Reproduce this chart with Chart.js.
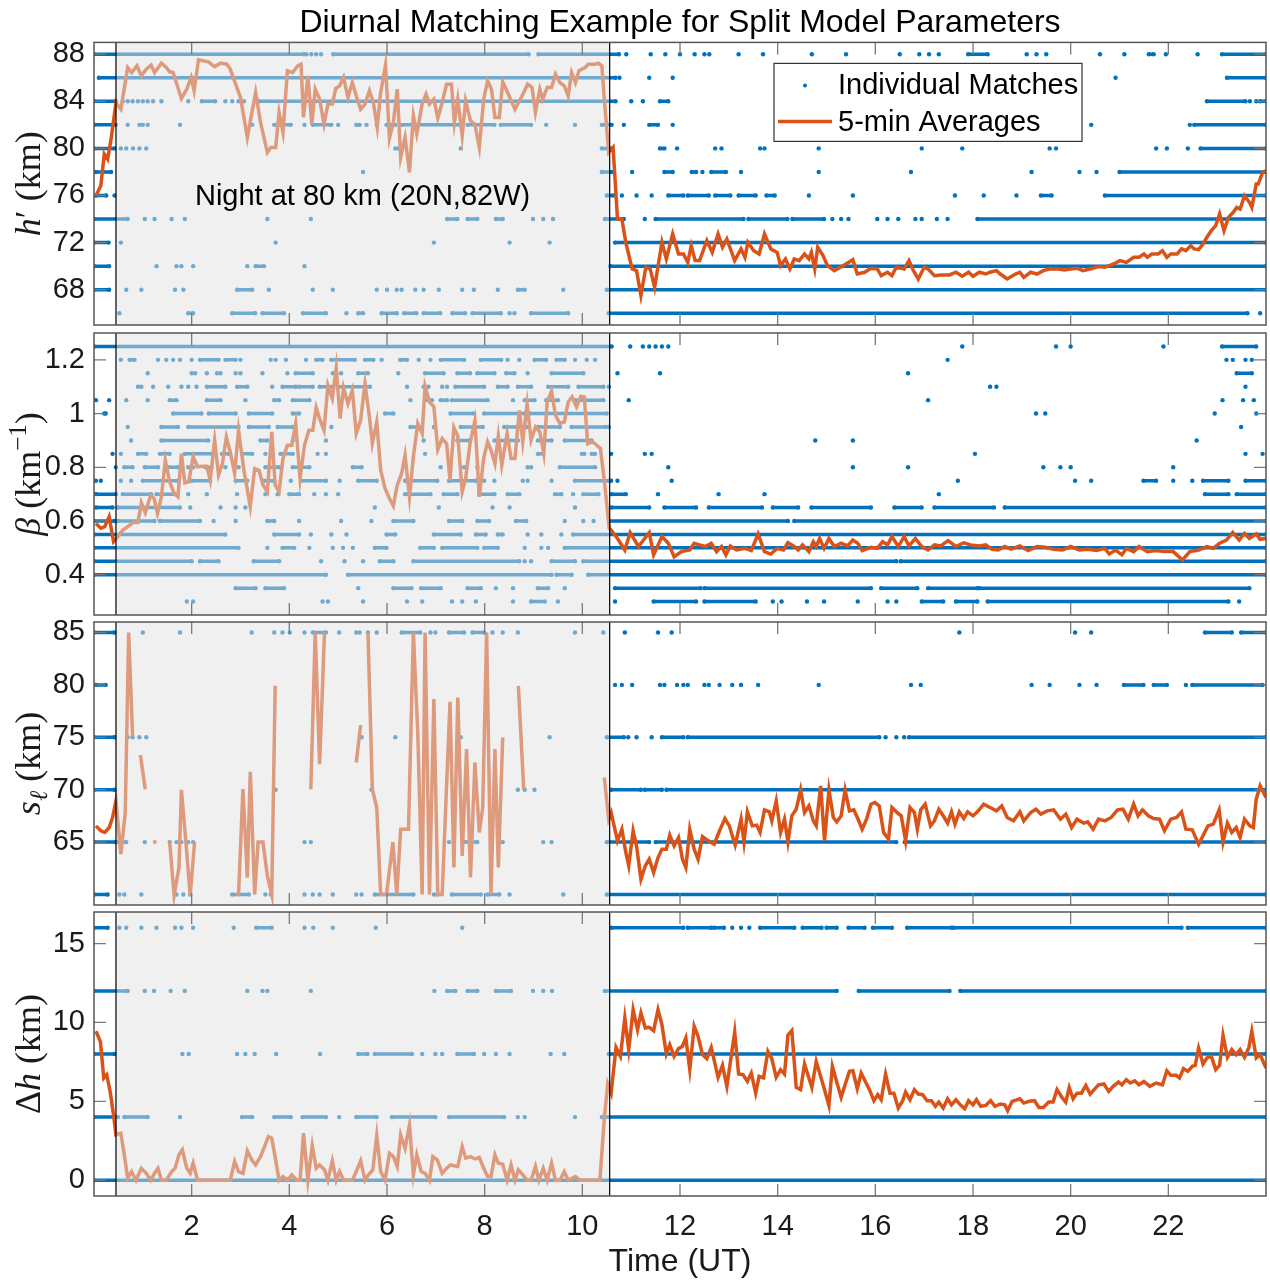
<!DOCTYPE html>
<html lang="en">
<head>
<meta charset="UTF-8">
<title>Diurnal Matching Example</title>
<script src="https://cdn.jsdelivr.net/npm/chart.js"></script>
<style>
  body { margin: 0; background: #fff; }
  #fig { position: relative; width: 1270px; height: 1281px; overflow: hidden; background: #fff; }
  #fig canvas { position: absolute; left: 0; }
</style>
</head>
<body>
<div id="fig">
  <canvas id="hChart" width="1270" height="355" style="top:0px"></canvas>
  <canvas id="betaChart" width="1270" height="342" style="top:303px"></canvas>
  <canvas id="sChart" width="1270" height="343" style="top:592px"></canvas>
  <canvas id="dhChart" width="1270" height="399" style="top:882px"></canvas>
</div>
<script>
// time axis (UT hours) and the night window at 80 km
const xTicks = [2, 4, 6, 8, 10, 12, 14, 16, 18, 20, 22];
const nightStart = 0.45;
const nightEnd = 10.56;

// tick values of each panel
const hTicks = [68, 72, 76, 80, 84, 88];
const betaTicks = [0.4, 0.6, 0.8, 1.0, 1.2];
const sTicks = [65, 70, 75, 80, 85];
const dhTicks = [0, 5, 10, 15];

// individual matches: [level, t] for one dot, [level, t0, t1] for a dense run of dots
const hMatches = [
  [88,0,4.3],[88,4.35],[88,4.45],[88,4.55],[88,4.65],[88,4.9,8.9],[88,9.1,10.75],[88,10.9],[88,11.4],[88,11.7],[88,12.0],[88,12.3],[88,12.5],[88,12.6],[88,13.2],[88,13.7],[88,14.7],[88,15.4],[88,16.5],[88,16.9],[88,17.1],[88,17.3],[88,17.9,18.3],[88,19.1],[88,19.3],[88,19.5],[88,20.6],[88,21.1],[88,21.6,21.7],[88,21.95],[88,22.6],[88,23.1,24],
  [86,0.1,10.68],[86,10.76],[86,11.37],[86,11.85],[86,20.92],[86,23.2,24],
  [84,0,0.45],[84,0.59],[84,0.69],[84,0.79],[84,0.9],[84,1.0],[84,1.1],[84,1.21],[84,1.38],[84,1.93],[84,2.21,2.48],[84,2.69],[84,2.83],[84,2.96],[84,3.07],[84,3.38,10.68],[84,11.0],[84,11.24],[84,11.59,11.76],[84,22.79,23.58],[84,23.67],[84,23.8],[84,23.88,24],
  [82,0,0.45],[82,0.69],[82,0.93],[82,1.0],[82,1.1],[82,1.76],[82,3.24],[82,3.69,4.03],[82,4.31],[82,4.48,4.86],[82,5.0],[82,5.37,5.44],[82,5.58],[82,5.79],[82,5.99,6.17],[82,6.3,7.5],[82,7.65,8.2],[82,8.33,8.95],[82,9.26],[82,9.85],[82,10.4,10.6],[82,10.85],[82,11.37,11.55],[82,11.85],[82,20.42],[82,22.44],[82,22.53,24],
  [80,0,0.42],[80,0.55],[80,0.66],[80,0.8],[80,0.93],[80,1.07],[80,6.17],[80,6.23],[80,7.51],[80,10.4,10.6],[80,11.59,11.68],[80,11.94],[80,12.72],[80,12.85],[80,13.64],[80,13.73],[80,14.84],[80,16.95],[80,17.78],[80,19.57],[80,19.7],[80,21.75],[80,21.97],[80,22.4],[80,22.66,24],
  [78,0.04,0.35],[78,5.51],[78,10.4,10.6],[78,11.02],[78,11.68,11.85],[78,12.24,12.33],[78,12.46],[78,12.64,12.94],[78,13.25],[78,14.84],[78,16.73],[78,19.2],[78,20.18],[78,20.53],[78,21.0,24],
  [76,0.04,0.25],[76,0.42],[76,10.5,10.63],[76,10.81],[76,11.11],[76,11.42],[76,11.76,12.07],[76,12.16,12.59],[76,12.72,13.03],[76,13.2,13.55],[76,13.77,13.94],[76,14.64],[76,15.54],[76,17.63],[76,18.22],[76,18.89],[76,19.39,19.61],[76,20.7,24],
  [74,0,0.69],[74,1.04],[74,1.24],[74,1.59],[74,1.86],[74,3.55],[74,4.44],[74,7.23,7.44],[74,7.65,7.85],[74,8.23,8.37],[74,8.99],[74,9.2],[74,9.4],[74,10.46,10.85],[74,11.28],[74,11.5,13.3],[74,13.4,14.2],[74,14.3,14.95],[74,15.12],[74,15.3],[74,15.45],[74,16.04],[74,16.25],[74,16.47],[74,16.82],[74,16.95],[74,17.26],[74,17.48],[74,18.09,24],
  [72,0,0.3],[72,0.55],[72,3.72],[72,6.96],[72,8.51],[72,9.33],[72,10.67,24],
  [70,0,0.31],[70,1.28],[70,1.69],[70,1.79],[70,2.03],[70,3.14],[70,3.31,3.48],[70,4.31],[70,10.57,24],
  [68,0,0.31],[68,0.66],[68,0.97],[68,1.66],[68,1.83],[68,2.93,3.24],[68,3.58],[68,4.48],[68,4.89],[68,5.79],[68,6.0],[68,6.2],[68,6.3],[68,6.58],[68,6.75],[68,7.06],[68,7.54],[68,7.78],[68,8.27],[68,8.68,8.82],[68,9.61],[68,10.5,24],
  [66,0.52],[66,1.93,2.03],[66,2.83,3.3],[66,3.45,3.89],[66,4.28,4.75],[66,5.17],[66,5.41,5.51],[66,5.89,6.2],[66,6.35,6.6],[66,6.75,7.09],[66,7.34,7.6],[66,7.75,8.33],[66,8.51],[66,8.61],[66,8.95,9.71],[66,10.54,23.62],[66,23.88]
];

const betaMatches = [
  [1.25,0,10.6],[1.25,10.98],[1.25,11.24],[1.25,11.37],[1.25,11.5],[1.25,11.63],[1.25,11.76],[1.25,17.78],[1.25,19.7],[1.25,20.0],[1.25,21.9],[1.25,23.1,23.8],
  [1.2,0.55],[1.2,0.73,0.83],[1.2,1.31],[1.2,1.48],[1.2,1.62],[1.2,1.76],[1.2,2.0],[1.2,2.17,2.55],[1.2,2.69,2.9],[1.2,3.0],[1.2,3.62],[1.2,3.72],[1.2,3.93],[1.2,4.34],[1.2,4.55,4.68],[1.2,4.86,5.34],[1.2,5.55,5.72],[1.2,5.89],[1.2,6.27,6.41],[1.2,6.65],[1.2,6.89],[1.2,7.1,7.58],[1.2,7.92,8.34],[1.2,8.47],[1.2,8.71],[1.2,9.02,9.26],[1.2,9.47,9.64],[1.2,9.85],[1.2,10.09],[1.2,10.26],[1.2,17.48],[1.2,23.19],[1.2,23.32],[1.2,23.58],[1.2,23.71],
  [1.15,1.1],[1.15,2.0],[1.15,2.07],[1.15,2.31],[1.15,2.52],[1.15,2.59],[1.15,2.9],[1.15,3.0],[1.15,3.45],[1.15,3.96],[1.15,4.13,4.48],[1.15,4.89],[1.15,5.06],[1.15,5.41,5.61],[1.15,6.23],[1.15,6.78,7.16],[1.15,7.44,7.7],[1.15,7.85,8.2],[1.15,8.44,8.61],[1.15,8.88],[1.15,9.37,10.02],[1.15,10.72],[1.15,11.59],[1.15,16.67],[1.15,23.4,23.71],
  [1.1,0.9],[1.1,0.97],[1.1,1.21],[1.1,1.52],[1.1,1.79],[1.1,1.93],[1.1,2.1],[1.1,2.31,2.69],[1.1,2.93,3.14],[1.1,3.65],[1.1,3.86,4.13],[1.1,4.2,4.48],[1.1,4.62,4.89],[1.1,4.99,5.65],[1.1,6.41],[1.1,6.75],[1.1,6.85],[1.1,7.13],[1.1,7.23],[1.1,7.4,7.99],[1.1,8.27,8.47],[1.1,8.68,8.95],[1.1,9.3,9.71],[1.1,9.92,10.43],[1.1,10.54],[1.1,18.35],[1.1,18.48],[1.1,23.58],
  [1.05,0.04],[1.05,0.31],[1.05,0.66],[1.05,1.1],[1.05,1.55,1.69],[1.05,2.31,2.59],[1.05,3.1],[1.05,3.69,3.79],[1.05,4.07,4.41],[1.05,6.48],[1.05,6.78,6.92],[1.05,7.1,7.23],[1.05,7.33,8.06],[1.05,8.58],[1.05,8.82,9.02],[1.05,9.26,9.5],[1.05,9.85,10.43],[1.05,10.95],[1.05,17.08],[1.05,23.11],[1.05,23.53],[1.05,23.75],
  [1.0,0.21],[1.0,0.24],[1.0,1.62,2.2],[1.0,2.35,2.9],[1.0,3.17,3.65],[1.0,4.07,4.2],[1.0,5.96,6.13],[1.0,7.3,7.78],[1.0,7.99,8.82],[1.0,8.92,10.5],[1.0,19.29],[1.0,19.48],[1.0,22.95],[1.0,23.8],
  [0.95,0.69],[0.95,1.38,1.72],[0.95,1.93,2.96],[0.95,3.17,3.58],[0.95,3.76,4.07],[0.95,4.86],[0.95,6.48,6.65],[0.95,6.96],[0.95,7.51,7.96],[0.95,8.4,8.88],[0.95,9.09,9.54],[0.95,9.78,10.47],[0.95,10.54],[0.95,23.49],
  [0.9,0.76],[0.9,1.38,2.34],[0.9,3.41,3.55],[0.9,4.07],[0.9,4.75],[0.9,6.75],[0.9,7.44,7.68],[0.9,8.2,8.68],[0.9,9.09,9.37],[0.9,9.64,10.19],[0.9,14.77],[0.9,15.54],[0.9,22.58],
  [0.85,0.38],[0.85,0.55],[0.85,0.9,1.07],[0.85,1.35,1.55],[0.85,1.86,2.41],[0.85,2.62,2.76],[0.85,3.03,3.24],[0.85,3.51],[0.85,3.82,4.07],[0.85,4.58],[0.85,4.75],[0.85,6.78],[0.85,9.09,9.2],[0.85,9.99],[0.85,10.04],[0.85,10.19,10.26],[0.85,10.59],[0.85,11.28],[0.85,11.42],[0.85,18.04],[0.85,23.58],[0.85,23.93],
  [0.8,0.45],[0.8,0.62,0.79],[0.8,1.04,1.31],[0.8,1.52,1.72],[0.8,1.93],[0.8,2.03],[0.8,2.28,2.41],[0.8,2.69],[0.8,2.96],[0.8,3.51,3.79],[0.8,4.07,4.41],[0.8,5.3,5.48],[0.8,7.1],[0.8,7.58],[0.8,7.85],[0.8,8.88],[0.8,8.95],[0.8,9.54,10.26],[0.8,11.76],[0.8,15.54],[0.8,16.67],[0.8,19.44],[0.8,19.79],[0.8,20.0],[0.8,22.1],
  [0.75,0.04],[0.75,0.14],[0.75,0.55],[0.75,0.76],[0.75,1.0,1.72],[0.75,2.0,2.38],[0.75,2.9,3.14],[0.75,3.48,3.69],[0.75,4.03],[0.75,4.24,4.75],[0.75,5.03],[0.75,5.41,5.79],[0.75,6.37,7.03],[0.75,7.27,7.82],[0.75,7.99],[0.75,8.2],[0.75,8.78],[0.75,8.88],[0.75,9.37],[0.75,9.85,10.54],[0.75,10.59],[0.75,10.72],[0.75,11.83],[0.75,17.69],[0.75,20.09],[0.75,20.42],[0.75,21.49,21.75],[0.75,22.1],[0.75,22.49],[0.75,22.71,23.23],[0.75,23.58,24],
  [0.7,0.04,0.45],[0.7,0.59,1.17],[0.7,1.28,1.66],[0.7,1.93],[0.7,2.31],[0.7,2.93],[0.7,3.51],[0.7,3.76],[0.7,4.0,4.2],[0.7,4.51],[0.7,4.75],[0.7,5.0],[0.7,6.37,6.89],[0.7,7.16,7.44],[0.7,7.89,8.2],[0.7,8.47,8.71],[0.7,9.44,9.57],[0.7,9.81],[0.7,10.02,10.33],[0.7,10.6,10.89],[0.7,11.55],[0.7,12.79],[0.7,13.73],[0.7,17.3],[0.7,22.75,23.23],[0.7,23.4,24],
  [0.65,0.04,0.38],[0.65,0.49,1.76],[0.65,1.97],[0.65,2.59],[0.65,2.9],[0.65,3.1],[0.65,5.75],[0.65,7.06],[0.65,8.16],[0.65,8.51],[0.65,9.85],[0.65,10.6,11.37],[0.65,11.68,12.33],[0.65,12.59,13.68],[0.65,13.9,14.42],[0.65,14.69,15.91],[0.65,16.39,16.95],[0.65,17.21,18.43],[0.65,18.65,24],
  [0.6,0,0.42],[0.6,0.49,1.24],[0.6,1.35,2.17],[0.6,2.45],[0.6,2.9],[0.6,3.55,3.69],[0.6,4.2],[0.6,5.06],[0.6,5.68],[0.6,6.13,6.54],[0.6,7.27,7.54],[0.6,7.85,8.09],[0.6,8.64,8.85],[0.6,9.64],[0.6,10.02],[0.6,10.23],[0.6,10.55,14.21],[0.6,14.34,24],
  [0.55,0,2.69],[0.55,3.69,4.2],[0.55,4.44],[0.55,4.86],[0.55,5.17],[0.55,5.99,6.17],[0.55,6.96,7.51],[0.55,7.82,8.02],[0.55,8.27,8.37],[0.55,8.88],[0.55,9.16],[0.55,9.57],[0.55,9.81,24],
  [0.5,0,2.96],[0.5,3.55],[0.5,3.86,4.1],[0.5,4.41],[0.5,4.89],[0.5,5.1],[0.5,5.3],[0.5,5.75,5.99],[0.5,6.68,6.96],[0.5,7.13,7.85],[0.5,7.99,8.27],[0.5,8.82],[0.5,9.16],[0.5,9.3],[0.5,9.64,24],
  [0.45,0,2.0],[0.45,2.17,2.55],[0.45,3.27,3.79],[0.45,4.65],[0.45,5.13],[0.45,5.51],[0.45,5.85,6.13],[0.45,6.54,8.71],[0.45,8.82],[0.45,8.95],[0.45,9.37,9.85],[0.45,10.02,16.43],[0.45,16.52,24],
  [0.4,0,4.75],[0.4,5.2,9.37],[0.4,9.47,9.78],[0.4,10.12,24],
  [0.35,2.9,3.31],[0.35,3.51,3.89],[0.35,5.41],[0.35,6.13,6.5],[0.35,6.7,7.1],[0.35,7.65,7.92],[0.35,8.23],[0.35,8.58],[0.35,9.09,9.3],[0.35,9.64],[0.35,10.67,12.42],[0.35,12.5,15.91],[0.35,16.12,16.86],[0.35,17.08,18.09],[0.35,18.13,23.66],
  [0.3,1.9],[0.3,2.03],[0.3,4.68],[0.3,4.79],[0.3,5.51],[0.3,6.41],[0.3,6.72],[0.3,7.33],[0.3,7.54],[0.3,7.82],[0.3,8.58],[0.3,8.95,9.23],[0.3,9.5],[0.3,10.67],[0.3,11.46,12.33],[0.3,12.5,13.55],[0.3,13.9],[0.3,14.08],[0.3,14.6],[0.3,14.95],[0.3,15.64],[0.3,16.25],[0.3,16.43],[0.3,16.95,17.39],[0.3,17.65,18.09],[0.3,18.3,23.23],[0.3,23.45]
];

const sMatches = [
  [85,0,0.42],[85,1.0],[85,1.76],[85,3.23],[85,3.69],[85,3.86],[85,4.01],[85,4.31],[85,4.48,4.75],[85,5.02],[85,5.37],[85,5.44],[85,5.61],[85,5.79],[85,6.3,6.68],[85,6.89],[85,6.99],[85,7.27,7.58],[85,7.75,7.99],[85,8.16],[85,8.37],[85,8.68],[85,9.85],[85,10.43],[85,10.87],[85,11.55],[85,11.83],[85,17.72],[85,20.09],[85,20.42],[85,22.75,23.3],[85,23.49,24],
  [80,0.04,0.24],[80,10.67],[80,10.81],[80,11.02],[80,11.59],[80,11.68],[80,11.94],[80,12.07],[80,12.16],[80,12.5],[80,12.59],[80,12.81],[80,13.07],[80,13.25],[80,13.6],[80,14.84],[80,16.73],[80,16.93],[80,19.2],[80,19.57],[80,20.18],[80,20.53],[80,21.09,21.49],[80,21.7,21.97],[80,22.36],[80,22.49,23.93],
  [75,0,0.42],[75,0.69],[75,0.79],[75,0.93],[75,1.07],[75,5.48],[75,6.17],[75,7.51],[75,9.33],[75,10.5,10.85],[75,10.94],[75,11.11],[75,11.42],[75,11.63,12.07],[75,12.16,16.08],[75,16.21],[75,16.43],[75,16.59],[75,16.69,24],
  [70,0,0.42],[70,3.72],[70,5.68],[70,8.68],[70,8.82],[70,9.02],[70,10.59,11.2],[70,11.28,11.63],[70,11.72,24],
  [65,0,0.45],[65,0.49,0.66],[65,1.04],[65,1.55],[65,1.69],[65,1.79],[65,1.93],[65,2.03],[65,4.31],[65,4.44],[65,7.27],[65,7.37],[65,7.58,7.85],[65,8.3],[65,8.37],[65,9.2],[65,9.37],[65,10.5,11.37],[65,11.5,16.43],[65,16.6,24],
  [60,0,0.28],[60,0.52],[60,0.62],[60,0.97],[60,1.69],[60,1.83],[60,1.97],[60,2.83,3.17],[60,3.51],[60,3.62],[60,4.31],[60,4.48],[60,4.62],[60,4.89],[60,5.37],[60,5.48],[60,5.75,6.54],[60,6.96],[60,7.03],[60,7.33,7.92],[60,8.06,8.3],[60,8.51],[60,9.61],[60,10.5,24]
];

const dhMatches = [
  [16,0,0.28],[16,0.52],[16,0.66],[16,0.97],[16,1.28],[16,1.66],[16,1.79],[16,2.03],[16,2.86],[16,3.32,3.64],[16,4.31],[16,4.49],[16,4.89],[16,5.77],[16,7.54],[16,10.6,12.07],[16,12.16,12.64],[16,12.7,12.9],[16,13.07],[16,13.25],[16,13.42],[16,13.64,14.34],[16,14.51,14.9],[16,15.0,15.21],[16,15.45,15.78],[16,15.95,16.34],[16,16.65,17.56],[16,17.6,22.27],[16,22.4,24],
  [12,0,0.69],[12,1.04],[12,1.23],[12,1.57],[12,1.86],[12,3.14],[12,3.45],[12,3.55],[12,4.44],[12,6.97],[12,7.23,7.4],[12,7.65,7.85],[12,8.23,8.54],[12,8.99],[12,9.2],[12,9.38],[12,10.46,15.21],[12,15.66,17.52],[12,17.74,24],
  [8,0,0.42],[8,1.81],[8,1.94],[8,2.93],[8,3.1],[8,3.29],[8,3.73],[8,4.63],[8,5.41,5.6],[8,5.75,6.51],[8,6.72],[8,6.99],[8,7.13],[8,7.44,7.78],[8,7.99],[8,8.23],[8,8.51],[8,9.35],[8,9.63],[8,10.54,24],
  [4,0,0.49],[4,0.62,1.1],[4,1.76],[4,3.03,3.24],[4,3.69,4.03],[4,4.27,4.75],[4,5.02],[4,5.37,5.79],[4,6.1,6.99],[4,7.27,8.4],[4,8.68],[4,8.82],[4,9.85],[4,10.4,24],
  [0,0,24]
];

// 5-min averages: [t, value], null = no average in that interval
const hAvg = [
  [0.04,75.98],[0.14,76.83],[0.21,79.52],[0.28,79.09],[0.35,80.79],[0.45,83.9],[0.55,83.33],[0.69,86.87],[0.77,86.44],[0.88,87.01],[0.97,86.16],[1.07,86.73],[1.17,87.07],[1.24,86.44],[1.38,87.24],[1.48,86.87],[1.55,86.5],[1.62,86.44],[1.79,84.24],[1.90,85.03],[1.99,86.02],[2.05,84.89],[2.14,87.52],[2.34,87.35],[2.47,86.95],[2.59,87.24],[2.72,87.15],[2.79,86.73],[2.90,85.45],[3.00,84.32],[3.14,80.93],[3.31,84.75],[3.41,82.2],[3.55,79.66],[3.62,80.08],[3.72,80.08],[3.79,83.05],[3.87,81.35],[3.96,86.59],[4.07,86.44],[4.17,87.01],[4.24,87.15],[4.29,82.63],[4.38,86.16],[4.46,82.06],[4.53,85.03],[4.62,84.18],[4.71,82.06],[4.79,83.76],[4.88,83.76],[4.95,85.09],[5.03,85.31],[5.11,86.02],[5.20,84.32],[5.29,85.6],[5.37,84.46],[5.46,83.33],[5.55,83.76],[5.64,84.89],[5.72,83.9],[5.80,81.78],[5.87,84.75],[5.97,87.07],[6.05,80.85],[6.13,82.2],[6.21,85.03],[6.28,79.23],[6.37,80.93],[6.46,77.96],[6.54,82.77],[6.61,81.21],[6.72,83.76],[6.80,84.61],[6.87,83.76],[6.96,84.18],[7.04,82.57],[7.13,83.9],[7.22,85.45],[7.32,85.45],[7.38,82.2],[7.45,84.18],[7.54,81.07],[7.61,84.04],[7.71,82.34],[7.80,82.06],[7.89,80.08],[7.98,84.18],[8.06,85.74],[8.14,85.03],[8.21,82.63],[8.30,82.63],[8.37,85.65],[8.47,84.75],[8.62,83.33],[8.75,84.32],[8.88,85.45],[8.97,85.17],[9.04,83.05],[9.13,85.03],[9.19,84.18],[9.28,85.17],[9.37,85.17],[9.45,86.3],[9.54,85.59],[9.63,85.31],[9.71,84.46],[9.78,86.44],[9.86,85.59],[9.93,86.59],[10.06,86.87],[10.12,87.15],[10.26,87.15],[10.33,87.24],[10.40,87.01],[10.45,84.18],[10.54,79.66],[10.63,80.08],[10.72,74.0],[10.81,74.0],[10.89,72.02],[11.02,69.76],[11.11,69.62],[11.20,67.5],[11.30,69.9],[11.39,69.76],[11.48,68.2],[11.63,72.02],[11.72,70.61],[11.85,72.73],[11.97,71.03],[12.07,71.03],[12.16,70.32],[12.23,71.74],[12.31,70.47],[12.40,70.47],[12.55,72.16],[12.66,71.17],[12.78,72.73],[12.87,71.6],[12.96,72.3],[13.12,70.47],[13.25,71.46],[13.33,70.75],[13.39,72.02],[13.51,71.31],[13.62,71.03],[13.73,72.73],[13.86,71.46],[13.99,71.17],[14.06,70.04],[14.16,70.61],[14.25,69.76],[14.34,70.61],[14.44,70.47],[14.55,71.03],[14.64,70.61],[14.69,71.17],[14.76,69.76],[14.82,71.6],[14.93,70.89],[15.02,70.04],[15.16,69.62],[15.34,70.04],[15.54,70.55],[15.63,69.33],[15.78,69.48],[15.91,69.82],[16.04,69.76],[16.12,69.19],[16.25,69.48],[16.34,69.19],[16.43,69.9],[16.59,69.76],[16.69,70.47],[16.78,69.62],[16.88,68.91],[17.00,69.9],[17.08,69.76],[17.21,69.19],[17.34,69.25],[17.52,69.25],[17.65,69.48],[17.78,69.14],[17.91,69.48],[18.00,69.14],[18.13,69.48],[18.26,69.33],[18.35,69.48],[18.48,69.62],[18.56,69.33],[18.70,68.91],[18.87,69.33],[18.96,69.48],[19.04,69.05],[19.18,69.48],[19.31,69.33],[19.44,69.62],[19.57,69.76],[19.74,69.76],[19.87,69.68],[20.00,69.76],[20.13,69.82],[20.25,69.62],[20.40,69.76],[20.57,69.96],[20.70,69.9],[20.88,70.18],[21.01,70.47],[21.14,70.32],[21.29,70.75],[21.40,70.75],[21.50,71.03],[21.57,70.75],[21.66,71.03],[21.79,71.03],[21.88,71.31],[21.97,70.75],[22.05,71.03],[22.18,71.03],[22.27,71.46],[22.36,71.31],[22.46,71.74],[22.53,71.46],[22.62,71.4],[22.71,71.88],[22.79,72.45],[22.88,73.01],[22.97,73.44],[23.05,74.43],[23.14,73.01],[23.23,74.14],[23.33,74.57],[23.40,74.99],[23.47,74.85],[23.56,75.98],[23.66,75.42],[23.71,74.99],[23.80,76.97],[23.84,76.97],[23.93,77.96],[23.99,78.1]
];

const betaAvg = [
  [0.04,0.591],[0.14,0.573],[0.22,0.579],[0.31,0.616],[0.40,0.523],[0.49,0.542],[0.59,0.566],[0.69,0.579],[0.80,0.594],[0.90,0.594],[0.97,0.668],[1.05,0.631],[1.16,0.696],[1.23,0.684],[1.30,0.628],[1.38,0.69],[1.46,0.826],[1.55,0.746],[1.64,0.703],[1.72,0.69],[1.79,0.851],[1.86,0.742],[1.94,0.746],[2.03,0.839],[2.12,0.802],[2.22,0.804],[2.31,0.804],[2.38,0.752],[2.47,0.901],[2.55,0.771],[2.63,0.814],[2.71,0.913],[2.79,0.857],[2.88,0.777],[2.96,0.938],[3.07,0.789],[3.20,0.653],[3.29,0.795],[3.38,0.789],[3.46,0.734],[3.55,0.709],[3.64,0.932],[3.71,0.734],[3.79,0.709],[3.87,0.833],[3.96,0.882],[4.05,0.882],[4.13,0.963],[4.22,0.758],[4.31,0.882],[4.40,0.938],[4.48,0.938],[4.55,1.022],[4.62,0.981],[4.71,0.938],[4.79,1.105],[4.88,1.056],[4.96,1.171],[5.04,0.981],[5.11,1.096],[5.20,1.037],[5.29,1.087],[5.37,0.926],[5.46,0.975],[5.55,1.111],[5.64,0.987],[5.70,0.888],[5.79,0.969],[5.87,0.789],[5.96,0.721],[6.05,0.684],[6.13,0.656],[6.21,0.734],[6.30,0.777],[6.37,0.845],[6.46,0.69],[6.54,0.839],[6.63,0.963],[6.72,0.926],[6.78,1.101],[6.87,1.043],[6.96,1.025],[7.04,0.866],[7.13,0.907],[7.22,0.888],[7.29,0.752],[7.37,0.948],[7.45,0.916],[7.54,0.709],[7.61,0.758],[7.70,0.888],[7.80,0.973],[7.89,0.69],[7.98,0.833],[8.06,0.895],[8.13,0.864],[8.21,0.814],[8.28,0.916],[8.35,0.808],[8.46,0.926],[8.54,0.833],[8.62,0.833],[8.71,1.012],[8.78,0.895],[8.87,1.035],[8.95,0.901],[9.04,0.95],[9.13,0.932],[9.21,0.851],[9.28,1.043],[9.37,1.084],[9.45,0.994],[9.54,0.963],[9.63,0.969],[9.71,1.043],[9.79,1.062],[9.88,1.025],[9.97,1.064],[10.04,1.062],[10.11,0.888],[10.21,0.895],[10.37,0.87],[10.45,0.752],[10.55,0.573],
  [10.59,0.566],[10.72,0.535],[10.87,0.492],[10.98,0.557],[11.15,0.505],[11.37,0.557],[11.46,0.474],[11.63,0.542],[11.76,0.517],[11.88,0.467],[12.03,0.486],[12.2,0.492],[12.29,0.517],[12.4,0.511],[12.52,0.505],[12.64,0.517],[12.75,0.486],[12.85,0.505],[12.94,0.474],[13.03,0.507],[13.16,0.492],[13.33,0.498],[13.46,0.49],[13.6,0.552],[13.73,0.486],[13.86,0.477],[13.99,0.498],[14.12,0.492],[14.21,0.519],[14.34,0.505],[14.42,0.492],[14.51,0.511],[14.64,0.486],[14.73,0.523],[14.79,0.505],[14.86,0.535],[14.95,0.498],[15.05,0.535],[15.16,0.505],[15.3,0.517],[15.43,0.507],[15.54,0.529],[15.64,0.517],[15.73,0.49],[15.91,0.502],[16.04,0.498],[16.15,0.523],[16.25,0.511],[16.34,0.542],[16.47,0.505],[16.59,0.542],[16.69,0.507],[16.82,0.535],[16.95,0.505],[17.08,0.492],[17.21,0.511],[17.34,0.507],[17.49,0.527],[17.65,0.505],[17.81,0.519],[17.95,0.511],[18.13,0.507],[18.26,0.511],[18.39,0.495],[18.52,0.492],[18.65,0.505],[18.78,0.495],[18.96,0.507],[19.13,0.49],[19.31,0.505],[19.48,0.502],[19.65,0.495],[19.83,0.492],[20.0,0.505],[20.18,0.492],[20.35,0.495],[20.53,0.49],[20.7,0.498],[20.79,0.477],[20.92,0.492],[21.05,0.474],[21.14,0.498],[21.29,0.486],[21.4,0.505],[21.57,0.486],[21.75,0.49],[21.92,0.486],[22.1,0.486],[22.29,0.455],[22.44,0.486],[22.62,0.492],[22.79,0.505],[22.92,0.498],[23.05,0.517],[23.19,0.529],[23.32,0.557],[23.45,0.529],[23.56,0.554],[23.66,0.535],[23.8,0.552],[23.88,0.532],[24.0,0.535]
];

const sAvg = [
  [0.04,66.55],[0.14,66.08],[0.22,65.92],[0.31,66.39],[0.38,67.35],[0.45,68.94],[0.55,63.85],[0.64,67.82],[0.71,85],[0.79,75.14],[0.84,null],
  [0.95,73.3],[1.05,70.05],[1.1,null],
  [1.21,65],[1.28,65],[1.4,null],
  [1.55,65],[1.64,59.94],[1.74,62.58],[1.79,69.99],[1.88,65.12],[1.97,59.94],[2.06,65],[2.3,null],
  [2.9,60],[2.96,60],[3.05,70.05],[3.14,61.62],[3.2,71.7],[3.29,60],[3.36,65],[3.46,65],[3.55,61.78],[3.64,60],[3.71,79.91],[4.0,null],
  [4.44,70.05],[4.53,85],[4.62,72.44],[4.72,85],[5.0,null],
  [5.37,72.6],[5.46,76.16],[5.5,null],
  [5.61,85],[5.7,70.05],[5.79,68.3],[5.87,60],[5.99,60],[6.12,65],[6.2,60],[6.28,66.23],[6.44,66.23],[6.54,85],[6.63,75.46],[6.72,60],[6.78,85],[6.87,60],[6.96,78.64],[7.04,60],[7.13,60],[7.29,78.38],[7.37,62.58],[7.45,78.8],[7.54,63.69],[7.63,73.87],[7.71,61.62],[7.8,72.6],[7.89,65.92],[7.96,68.3],[8.04,85],[8.13,60],[8.21,73.87],[8.28,62.58],[8.37,74.98],[8.5,null],
  [8.69,79.91],[8.8,70.05],[9.0,null],
  [10.45,71.16],[10.54,67.19],[10.59,67.82],[10.72,65.12],[10.81,66.23],[10.89,64.01],[10.95,62.74],[11.04,66.08],[11.11,64.64],[11.2,61.46],[11.29,62.74],[11.37,63.37],[11.46,62.1],[11.55,63.53],[11.63,64.33],[11.72,64.33],[11.79,65.66],[11.88,64.64],[11.97,65.44],[12.05,63.37],[12.12,62.58],[12.2,66.23],[12.29,64.33],[12.37,63.37],[12.46,65.53],[12.58,65.12],[12.7,64.8],[12.81,66.08],[12.92,67.25],[13.01,66.55],[13.13,64.71],[13.25,67.19],[13.31,65.0],[13.38,67.89],[13.48,66.55],[13.57,66.62],[13.64,65.92],[13.73,68.08],[13.83,67.89],[13.88,67.03],[13.97,68.94],[14.06,65.92],[14.14,67.19],[14.21,65.0],[14.29,67.51],[14.38,68.14],[14.47,69.99],[14.55,67.82],[14.64,68.46],[14.73,67.03],[14.79,66.55],[14.88,70.37],[14.96,65.12],[15.05,69.99],[15.14,67.35],[15.21,66.93],[15.3,67.51],[15.38,69.99],[15.47,67.98],[15.56,68.08],[15.64,67.25],[15.73,66.23],[15.82,67.19],[15.91,68.62],[15.99,68.78],[16.08,68.46],[16.17,65.92],[16.27,65.28],[16.34,68.3],[16.43,67.89],[16.53,67.51],[16.62,65.12],[16.71,68.3],[16.8,67.82],[16.86,66.23],[16.93,68.08],[17.02,68.62],[17.13,66.55],[17.21,67.03],[17.3,68.14],[17.39,67.51],[17.48,66.81],[17.56,67.89],[17.63,66.71],[17.72,67.89],[17.81,67.25],[17.89,67.89],[18.0,67.51],[18.09,67.89],[18.22,68.62],[18.35,68.3],[18.48,67.98],[18.59,68.46],[18.7,67.35],[18.83,67.03],[18.96,67.89],[19.04,67.03],[19.18,67.82],[19.29,68.14],[19.39,67.67],[19.52,67.98],[19.65,68.08],[19.79,67.19],[19.9,67.67],[20.02,66.39],[20.13,67.19],[20.27,66.81],[20.35,66.93],[20.46,66.23],[20.57,67.19],[20.7,67.03],[20.83,67.35],[20.96,68.08],[21.07,68.14],[21.18,67.19],[21.29,68.62],[21.38,67.51],[21.47,68.08],[21.59,67.51],[21.7,67.25],[21.82,67.19],[21.92,66.08],[22.05,67.19],[22.17,67.35],[22.27,67.89],[22.36,66.23],[22.49,66.17],[22.62,64.8],[22.71,65.6],[22.81,66.55],[22.92,66.71],[23.04,68.08],[23.12,65.0],[23.21,66.81],[23.3,65.92],[23.39,66.39],[23.47,65.44],[23.56,67.19],[23.67,66.55],[23.74,66.39],[23.8,69.1],[23.88,70.37],[24.0,69.26]
];

const dhAvg = [
  [0.04,9.44],[0.13,8.8],[0.2,6.48],[0.26,6.69],[0.33,5.63],[0.4,4.15],[0.45,2.88],[0.55,2.98],[0.62,1.61],[0.69,0.13],[0.77,0.55],[0.86,0],[0.97,0.76],[1.07,0.44],[1.16,0],[1.24,0.44],[1.31,0.76],[1.38,0],[1.48,0],[1.59,0.55],[1.66,0.76],[1.74,1.61],[1.81,1.93],[1.9,0.76],[1.97,0.44],[2.03,1.08],[2.12,0],[2.79,0],[2.88,1.19],[2.96,0.55],[3.05,0.44],[3.14,1.86],[3.23,1.29],[3.31,0.97],[3.41,1.5],[3.48,2.03],[3.57,2.77],[3.64,2.67],[3.72,1.29],[3.79,0],[3.87,0.23],[3.96,0],[4.05,0.34],[4.15,0],[4.22,0],[4.29,2.98],[4.38,0],[4.47,2.2],[4.55,0.76],[4.62,0.97],[4.72,0.66],[4.79,0],[4.88,1.23],[4.96,0],[5.03,0.55],[5.11,0],[5.29,0],[5.37,0.55],[5.46,1.23],[5.55,0],[5.62,0.34],[5.71,0.66],[5.79,2.83],[5.87,0.55],[5.96,0],[6.05,1.71],[6.13,1.5],[6.21,0.87],[6.28,2.88],[6.37,2.03],[6.46,3.51],[6.54,0.34],[6.61,1.61],[6.7,0.55],[6.78,0.44],[6.87,0],[6.94,1.5],[7.03,1.29],[7.13,0.44],[7.22,0.76],[7.3,0.97],[7.45,0.87],[7.54,2.14],[7.61,1.4],[7.71,1.5],[7.8,1.35],[7.89,1.44],[7.98,0.76],[8.06,0.23],[8.13,0.23],[8.21,1.61],[8.28,1.08],[8.37,1.02],[8.46,0],[8.54,0.97],[8.62,0],[8.69,0.66],[8.78,0.34],[8.87,0],[8.95,0],[9.04,0.87],[9.11,0],[9.2,0.76],[9.28,0],[9.37,1.08],[9.45,0],[9.54,0],[9.63,0.55],[9.71,0],[9.86,0.23],[9.95,0],[10.36,0],[10.45,3.94],[10.52,6.1],
  [10.59,5.52],[10.69,8.42],[10.78,7.85],[10.87,10.29],[10.95,8.28],[11.04,10.81],[11.13,9.54],[11.2,10.6],[11.29,9.65],[11.37,9.69],[11.46,9.48],[11.55,10.81],[11.63,9.86],[11.72,8.0],[11.79,8.59],[11.88,7.85],[11.97,8.34],[12.05,8.49],[12.12,9.02],[12.2,7.01],[12.29,9.76],[12.37,9.12],[12.46,7.96],[12.55,7.7],[12.64,8.42],[12.78,6.52],[12.87,7.28],[12.96,5.95],[13.12,9.4],[13.2,6.73],[13.29,6.69],[13.38,6.26],[13.46,6.79],[13.55,5.52],[13.62,6.58],[13.71,6.48],[13.8,8.17],[13.88,7.7],[13.97,6.52],[14.06,7.01],[14.14,6.73],[14.21,9.19],[14.29,9.48],[14.38,5.88],[14.47,5.74],[14.55,7.37],[14.64,6.48],[14.7,5.88],[14.79,7.53],[14.88,6.58],[14.96,5.74],[15.05,4.74],[15.12,7.22],[15.21,6.22],[15.3,5.25],[15.38,6.05],[15.47,6.9],[15.54,6.94],[15.63,5.8],[15.71,6.79],[15.8,6.22],[15.88,5.74],[15.97,5.04],[16.05,5.42],[16.12,5.1],[16.21,6.73],[16.3,5.52],[16.38,5.52],[16.47,4.57],[16.56,5.04],[16.62,5.59],[16.71,5.1],[16.8,5.74],[16.88,5.46],[16.97,5.42],[17.06,5.04],[17.15,5.04],[17.23,4.68],[17.3,4.95],[17.39,4.57],[17.48,5.16],[17.56,4.78],[17.65,5.1],[17.74,4.78],[17.83,4.53],[17.91,5.04],[18.0,4.78],[18.07,5.1],[18.16,4.68],[18.26,4.74],[18.36,5.04],[18.45,4.68],[18.56,4.83],[18.65,4.78],[18.71,4.4],[18.8,5.0],[18.96,5.16],[19.04,4.89],[19.15,5.0],[19.26,5.04],[19.35,4.61],[19.44,4.61],[19.55,4.95],[19.64,4.95],[19.72,5.74],[19.83,5.21],[19.9,4.95],[19.97,5.88],[20.05,5.16],[20.13,5.52],[20.22,5.52],[20.31,6.01],[20.4,5.46],[20.48,5.74],[20.57,6.05],[20.68,6.1],[20.78,5.63],[20.87,5.95],[20.98,6.22],[21.05,6.05],[21.14,6.37],[21.22,6.16],[21.31,6.3],[21.4,6.05],[21.5,6.26],[21.62,5.95],[21.75,6.16],[21.88,6.05],[21.97,6.94],[22.05,6.65],[22.16,6.65],[22.23,6.48],[22.31,7.07],[22.4,6.9],[22.49,7.22],[22.55,7.28],[22.62,8.38],[22.71,7.37],[22.79,7.75],[22.88,7.85],[22.97,7.01],[23.05,7.28],[23.12,9.19],[23.21,7.79],[23.3,8.28],[23.39,7.96],[23.47,8.28],[23.56,7.79],[23.65,8.42],[23.71,9.44],[23.8,7.75],[23.88,7.96],[24.0,7.11]
];

const blue = '#0072BD';
const orange = '#D95319';
const sansFont = '"Liberation Sans", Arial, Helvetica, sans-serif';
const serifFont = '"Liberation Serif", "DejaVu Serif", "Times New Roman", serif';

Chart.defaults.font.family = sansFont;
Chart.defaults.font.size = 29;
Chart.defaults.color = '#1a1a1a';

// turn match runs into points, a null point ends each run
function matchPoints(runs) {
  const pts = [];
  runs.forEach(r => {
    const t0 = r[1];
    const t1 = r.length > 2 ? r[2] : r[1];
    pts.push({ x: t0, y: r[0] });
    if (t1 !== t0) pts.push({ x: t1, y: r[0] });
    pts.push({ x: t1, y: null });
  });
  return pts;
}

function avgPoints(pairs) {
  return pairs.map(p => ({ x: p[0], y: p[1] }));
}

// night shading, box, inside ticks, y label, note and legend
const decor = {
  id: 'decor',
  afterDatasetsDraw(chart, args, o) {
    const ctx = chart.ctx;
    const a = chart.chartArea;
    const xs = chart.scales.x;
    const ys = chart.scales.y;
    const n0 = xs.getPixelForValue(nightStart);
    const n1 = xs.getPixelForValue(nightEnd);

    ctx.save();
    ctx.fillStyle = 'rgba(225,225,225,0.5)';
    ctx.fillRect(n0, a.top, n1 - n0, a.bottom - a.top);

    ctx.strokeStyle = '#000';
    ctx.lineWidth = 1.2;
    ctx.beginPath();
    [n0, n1].forEach(px => {
      ctx.moveTo(px, a.top);
      ctx.lineTo(px, a.bottom);
    });
    ctx.stroke();

    // ticks point inward on all four sides
    ctx.strokeStyle = '#7a7a7a';
    ctx.lineWidth = 1.3;
    ctx.beginPath();
    xTicks.forEach(v => {
      const px = xs.getPixelForValue(v);
      ctx.moveTo(px, a.bottom); ctx.lineTo(px, a.bottom - 12);
      ctx.moveTo(px, a.top); ctx.lineTo(px, a.top + 12);
    });
    o.yTicks.forEach(v => {
      const py = ys.getPixelForValue(v);
      ctx.moveTo(a.left, py); ctx.lineTo(a.left + 12, py);
      ctx.moveTo(a.right, py); ctx.lineTo(a.right - 12, py);
    });
    ctx.stroke();

    ctx.strokeStyle = '#555';
    ctx.lineWidth = 1.5;
    ctx.strokeRect(a.left, a.top, a.right - a.left, a.bottom - a.top);

    if (o.note) {
      ctx.fillStyle = '#000';
      ctx.font = '29px ' + sansFont;
      ctx.textAlign = 'center';
      ctx.textBaseline = 'middle';
      ctx.fillText(o.note.text, xs.getPixelForValue(o.note.x), ys.getPixelForValue(o.note.y));
    }

    if (o.legend) {
      const ds = chart.data.datasets;
      const bx = a.right - 185 - 307, by = a.top + 21, bw = 308, bh = 78;
      ctx.fillStyle = '#fff';
      ctx.fillRect(bx, by, bw, bh);
      ctx.strokeStyle = '#333';
      ctx.lineWidth = 1.2;
      ctx.strokeRect(bx, by, bw, bh);
      ctx.fillStyle = ds[0].pointBackgroundColor;
      ctx.beginPath();
      ctx.arc(bx + 31, by + 22, 2, 0, Math.PI * 2);
      ctx.fill();
      ctx.strokeStyle = ds[1].borderColor;
      ctx.lineWidth = ds[1].borderWidth;
      ctx.beginPath();
      ctx.moveTo(bx + 4, by + 58);
      ctx.lineTo(bx + 58, by + 58);
      ctx.stroke();
      ctx.fillStyle = '#000';
      ctx.font = '29px ' + sansFont;
      ctx.textAlign = 'left';
      ctx.textBaseline = 'middle';
      ctx.fillText(ds[0].label, bx + 64, by + 23);
      ctx.fillText(ds[1].label, bx + 64, by + 60);
    }
    ctx.restore();
  },
  afterDraw(chart, args, o) {
    // rotated y label made of plain, italic, super- and subscript parts
    const ctx = chart.ctx;
    const a = chart.chartArea;
    ctx.save();
    ctx.translate(28, (a.top + a.bottom) / 2);
    ctx.rotate(-Math.PI / 2);
    ctx.fillStyle = '#1a1a1a';
    ctx.textBaseline = 'alphabetic';
    ctx.textAlign = 'left';
    let total = 0;
    o.yLabel.forEach(p => { ctx.font = p.font; total += ctx.measureText(p.text).width; });
    let x = -total / 2;
    o.yLabel.forEach(p => {
      ctx.font = p.font;
      ctx.fillText(p.text, x, 12 + (p.dy || 0));
      x += ctx.measureText(p.text).width;
    });
    ctx.restore();
  }
};

const it = 'italic 36px ' + serifFont;
const rm = '36px ' + serifFont;
const sm = '25px ' + serifFont;
const smIt = 'italic 25px ' + serifFont;

function makePanel(id, cfg) {
  const ctx = document.getElementById(id).getContext('2d');
  return new Chart(ctx, {
    type: 'line',
    data: {
      datasets: [
        {
          label: 'Individual Matches',
          data: matchPoints(cfg.matches),
          borderColor: blue,
          backgroundColor: blue,
          pointBackgroundColor: blue,
          borderWidth: 3.5,
          pointRadius: 2.2,
          pointBorderWidth: 0,
          spanGaps: false,
          order: 2
        },
        {
          label: '5-min Averages',
          data: avgPoints(cfg.avg),
          borderColor: orange,
          backgroundColor: orange,
          borderWidth: 3.5,
          pointRadius: 0,
          spanGaps: false,
          tension: 0,
          order: 1
        }
      ]
    },
    options: {
      responsive: false,
      animation: false,
      events: [],
      layout: { padding: cfg.padding },
      scales: {
        x: {
          type: 'linear',
          min: 0,
          max: 24,
          display: cfg.showX,
          afterBuildTicks: s => { s.ticks = xTicks.map(v => ({ value: v })); },
          afterFit: s => { if (cfg.showX) s.height = 85; },
          grid: { display: false, drawTicks: false },
          border: { display: false },
          ticks: { padding: 14, maxRotation: 0, autoSkip: false, color: '#1a1a1a' },
          title: {
            display: cfg.showX,
            text: 'Time (UT)',
            font: { size: 32 },
            color: '#1a1a1a',
            padding: { top: 0, bottom: 0 }
          }
        },
        y: {
          type: 'linear',
          min: cfg.yMin,
          max: cfg.yMax,
          afterBuildTicks: s => { s.ticks = cfg.yTicks.map(v => ({ value: v })); },
          afterFit: s => { s.width = 94; },
          grid: { display: false, drawTicks: false },
          border: { display: false },
          ticks: { padding: 9, color: '#1a1a1a', callback: v => String(+v.toFixed(2)) }
        }
      },
      plugins: {
        legend: { display: false },
        tooltip: { enabled: false },
        title: cfg.title ? {
          display: true,
          text: cfg.title,
          fullSize: false,
          font: { size: 32, weight: 'normal' },
          color: '#000',
          padding: { top: 3, bottom: 0 }
        } : { display: false },
        decor: {
          yTicks: cfg.yTicks,
          yLabel: cfg.yLabel,
          note: cfg.note,
          legend: cfg.legend
        }
      }
    },
    plugins: [decor]
  });
}

makePanel('hChart', {
  matches: hMatches, avg: hAvg, yMin: 65, yMax: 89, yTicks: hTicks,
  padding: { top: 1, right: 1, bottom: 30, left: 0 }, showX: false,
  title: 'Diurnal Matching Example for Split Model Parameters',
  note: { text: 'Night at 80 km (20N,82W)', x: 5.5, y: 75.9 },
  legend: true,
  yLabel: [{ text: 'h', font: it }, { text: '′', font: rm }, { text: ' (km)', font: rm }]
});

makePanel('betaChart', {
  matches: betaMatches, avg: betaAvg, yMin: 0.25, yMax: 1.3, yTicks: betaTicks,
  padding: { top: 30, right: 1, bottom: 30, left: 0 }, showX: false,
  yLabel: [{ text: 'β', font: it }, { text: ' (km', font: rm }, { text: '−1', font: sm, dy: -14 }, { text: ')', font: rm }]
});

makePanel('sChart', {
  matches: sMatches, avg: sAvg, yMin: 59, yMax: 86, yTicks: sTicks,
  padding: { top: 30, right: 1, bottom: 30, left: 0 }, showX: false,
  yLabel: [{ text: 's', font: it }, { text: 'ℓ', font: smIt, dy: 7 }, { text: ' (km)', font: rm }]
});

makePanel('dhChart', {
  matches: dhMatches, avg: dhAvg, yMin: -1, yMax: 17, yTicks: dhTicks,
  padding: { top: 30, right: 1, bottom: 0, left: 0 }, showX: true,
  yLabel: [{ text: 'Δ', font: rm }, { text: 'h', font: it }, { text: ' (km)', font: rm }]
});
</script>
</body>
</html>
